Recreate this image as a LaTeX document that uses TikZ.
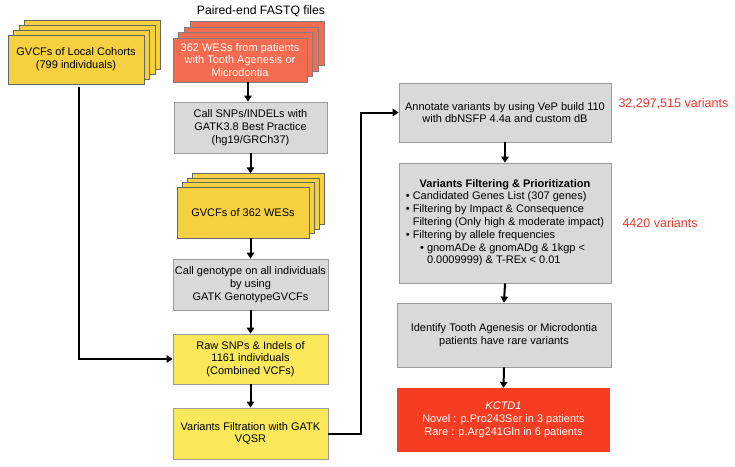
\documentclass[tikz,border=0pt]{standalone}
\usepackage{fontspec}
\setmainfont{Liberation Sans}
\usetikzlibrary{arrows.meta}
\definecolor{stackgold}{HTML}{F5D142}
\definecolor{lightyel}{HTML}{FBE85A}
\definecolor{stackred}{HTML}{F36B50}
\definecolor{hotred}{HTML}{F43D22}
\definecolor{boxgray}{HTML}{D9D9D9}
\definecolor{edgegray}{HTML}{9A9A9A}
\definecolor{numred}{HTML}{E8392C}
\begin{document}
\begin{tikzpicture}[x=1pt,y=-1pt,
  font=\fontsize{11}{12.8}\selectfont,
  box/.style={draw=edgegray, line width=0.8pt, align=center, inner sep=2pt},
  goldbox/.style={box, fill=stackgold, draw=black!60},
  yelbox/.style={box, fill=lightyel},
  redstack/.style={box, fill=stackred, draw=black!50, text=white},
  graybox/.style={box, fill=boxgray},
  hotbox/.style={align=center, fill=hotred, text=white, inner sep=2pt},
  flow/.style={line width=2pt, -{Triangle[length=6pt,width=7.5pt]}},
  numlab/.style={text=numred, font=\fontsize{12.5}{14}\selectfont, anchor=west}]
\useasboundingbox (0,0) rectangle (735,466);

% local cohorts stack
\foreach \i in {3,2,1}
  \node[goldbox, minimum width=136, minimum height=49, xshift=\i*5.5pt, yshift=\i*5pt] (local\i) at (76,59.5) {};
\node[goldbox, minimum width=136, minimum height=49] (local) at (76,59.5) {GVCFs of Local Cohorts\\(799 individuals)};

% FASTQ stack
\node[font=\fontsize{12.2}{14}\selectfont] (fastq) at (261,11) {Paired-end FASTQ files};
\foreach \i in {3,2,1}
  \node[redstack, minimum width=134, minimum height=44, xshift=\i*5.8pt, yshift=\i*5.4pt] (wes\i) at (240,60) {};
\node[redstack, minimum width=134, minimum height=44] (wes) at (240,60) {362 WESs from patients\\with Tooth Agenesis or\\Microdontia};

\node[graybox, minimum width=153, minimum height=51] (callsnp) at (250.5,127.5) {Call SNPs/INDELs with\\GATK3.8 Best Practice\\(hg19/GRCh37)};

\foreach \i in {3,2,1}
  \node[goldbox, minimum width=132, minimum height=51, xshift=\i*5pt, yshift=\i*4.4pt] (gv\i) at (243,212.5) {};
\node[goldbox, minimum width=132, minimum height=51] (gvcf) at (243,212.5) {GVCFs of 362 WESs};

\node[graybox, minimum width=155, minimum height=51] (geno) at (250.5,284.5) {Call genotype on all individuals\\by using\\GATK GenotypeGVCFs};
\node[yelbox, minimum width=155, minimum height=50] (raw) at (250.5,359) {Raw SNPs \& Indels of\\1161 individuals\\(Combined VCFs)};
\node[yelbox, minimum width=155, minimum height=51] (vf) at (250.5,433.5) {Variants Filtration with GATK\\VQSR};

\node[graybox, minimum width=212, minimum height=59] (annot) at (505,112.5) {Annotate variants by using VeP build 110\\with dbNSFP 4.4a and custom dB};
\node[numlab] (n1) at (615,104) {32,297,515 variants};

\node[graybox, minimum width=212, minimum height=120] (filt) at (505,223) {%
\begin{tabular}{@{}l@{}}
\multicolumn{1}{@{}c@{}}{\textbf{Variants Filtering \& Prioritization}}\\
• Candidated Genes List (307 genes)\\
• Filtering by Impact \& Consequence\\
\hphantom{• }Filtering (Only high \& moderate impact)\\
• Filtering by allele frequencies\\
\hspace{5mm}• gnomADe \& gnomADg \& 1kgp <\\
\hspace{5mm}\hphantom{• }0.0009999) \& T-REx < 0.01
\end{tabular}};
\node[numlab] (n2) at (619,223) {4420 variants};

\node[graybox, minimum width=214, minimum height=64] (ident) at (504,335) {Identify Tooth Agenesis or Microdontia\\patients have rare variants};
\node[hotbox, minimum width=213, minimum height=64] (kctd) at (503.5,420) {\textit{KCTD1}\\Novel : p.Pro243Ser in 3 patients\\Rare : p.Arg241Gln in 6 patients};

% connectors
\draw[flow] (wes.south -| callsnp.north) ++(-2.5,0) coordinate (a1) -- (a1 |- callsnp.north);
\draw[flow] (callsnp.south) -- (callsnp.south |- gv3.north);
\draw[flow] (gvcf.south -| geno.north) -- (geno.north);
\draw[flow] (geno.south) -- (raw.north);
\draw[flow] (raw.south) -- (vf.north);
\draw[flow, shorten <=3pt] (local.south) ++(3,0) coordinate (lc) |- (raw.west);
\draw[flow] (vf.east) -- ++(33,0) |- (annot.west);
\draw[flow] (annot.south) -- (filt.north);
\draw[flow] (filt.south) -- (ident.north);
\draw[flow] (ident.south) -- (kctd.north);
\end{tikzpicture}
\end{document}
